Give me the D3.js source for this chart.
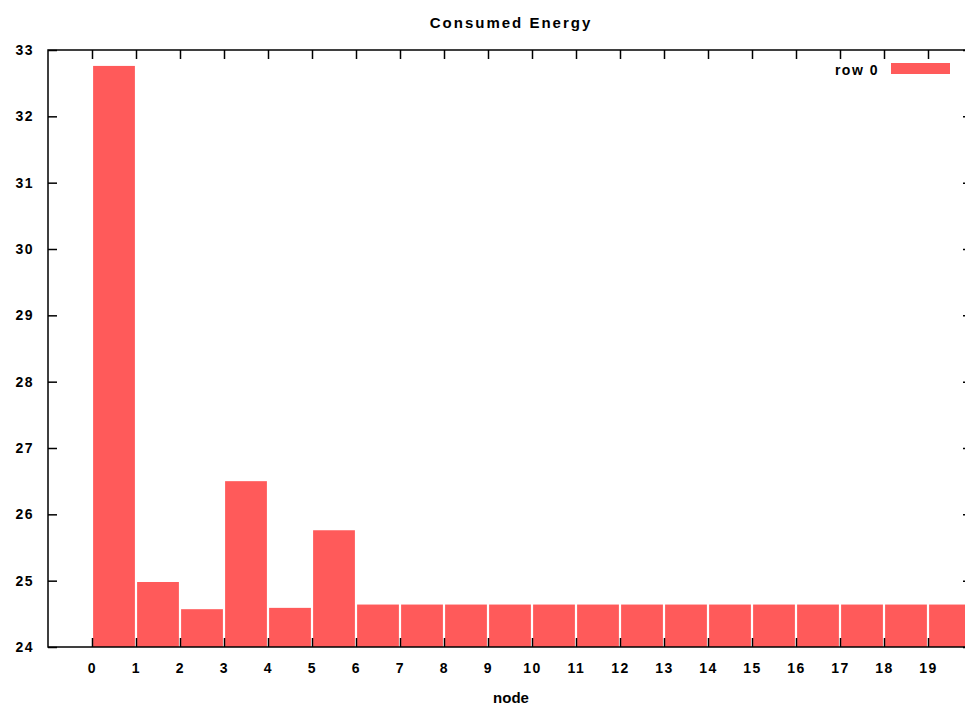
<!DOCTYPE html>
<html>
<head>
<meta charset="utf-8">
<script src="https://cdn.jsdelivr.net/npm/d3@7"></script>
<style>
  html, body { margin: 0; padding: 0; background: #fff; }
  svg text { font-family: "Liberation Sans", Arial, sans-serif; fill: #000; }
</style>
</head>
<body>
<svg id="chart" width="965" height="707"></svg>
<script>
const nodes = d3.range(0, 20);
const energy = [32.76, 24.98, 24.57, 26.50, 24.59, 25.76,
  24.64, 24.64, 24.64, 24.64, 24.64, 24.64, 24.64, 24.64,
  24.64, 24.64, 24.64, 24.64, 24.64, 24.64];
const yTicks = [24, 25, 26, 27, 28, 29, 30, 31, 32, 33];
const xTickLabels = nodes.map(String);
const seriesName = "row 0";
const title = "Consumed Energy";
const xLabel = "node";

(function () {
const svg = d3.select("#chart");
const pL = 48, pR = 972, pT = 50, pB = 647;

const x = d3.scaleLinear().domain([-1, 20]).range([pL, pR]);
const y = d3.scaleLinear().domain([24, 33]).range([pB, pT]);
const color = "#ff5a5a";

// bars
svg.append("g").selectAll("rect").data(energy).join("rect")
  .attr("x", (d, i) => x(nodes[i] + 0.025))
  .attr("width", x(0.95) - x(0))
  .attr("y", d => y(d))
  .attr("height", d => y(24) - y(d))
  .attr("fill", color);

const fontSize = 14;
function styleAxis(g, showText) {
  g.select(".domain").remove();
  g.selectAll(".tick line").attr("stroke", "#000").attr("stroke-width", 1.5);
  g.selectAll(".tick text")
    .attr("font-family", "Liberation Sans, Arial, sans-serif")
    .attr("font-size", fontSize)
    .attr("font-weight", "bold")
    .attr("letter-spacing", "1.5px")
    .attr("fill", "#000")
    .style("display", showText ? null : "none");
}

svg.append("g").attr("transform", `translate(${pL},0)`)
  .call(d3.axisLeft(y).tickValues(yTicks).tickFormat(d3.format("d"))
    .tickSizeInner(-9).tickSizeOuter(0).tickPadding(14))
  .call(g => styleAxis(g, true));

svg.append("g").attr("transform", `translate(${pR},0)`)
  .call(d3.axisRight(y).tickValues(yTicks).tickSizeInner(-9).tickSizeOuter(0))
  .call(g => styleAxis(g, false));

svg.append("g").attr("transform", `translate(0,${pB})`)
  .call(d3.axisBottom(x).tickValues(nodes).tickFormat((d, i) => xTickLabels[i])
    .tickSizeInner(-9).tickSizeOuter(0).tickPadding(16))
  .call(g => styleAxis(g, true));

svg.append("g").attr("transform", `translate(0,${pT})`)
  .call(d3.axisTop(x).tickValues(nodes).tickSizeInner(-9).tickSizeOuter(0))
  .call(g => styleAxis(g, false));

svg.append("rect")
  .attr("x", pL).attr("y", pT)
  .attr("width", pR - pL).attr("height", pB - pT)
  .attr("fill", "none").attr("stroke", "#000").attr("stroke-width", 1.5);

svg.append("text")
  .attr("x", (pL + pR) / 2 + 1).attr("y", 28)
  .attr("text-anchor", "middle")
  .attr("font-size", 15)
  .attr("font-weight", "bold")
  .attr("letter-spacing", "2px")
  .text(title);

svg.append("text")
  .attr("x", (pL + pR) / 2 + 1).attr("y", 703)
  .attr("text-anchor", "middle")
  .attr("font-size", 15)
  .attr("font-weight", "bold")
  .text(xLabel);

svg.append("text")
  .attr("x", 879).attr("y", 75)
  .attr("text-anchor", "end")
  .attr("font-size", 14)
  .attr("font-weight", "bold")
  .attr("letter-spacing", "1.5px")
  .text(seriesName);
svg.append("rect")
  .attr("x", 891).attr("y", 63)
  .attr("width", 59).attr("height", 11)
  .attr("fill", color);
})();
</script>
</body>
</html>
